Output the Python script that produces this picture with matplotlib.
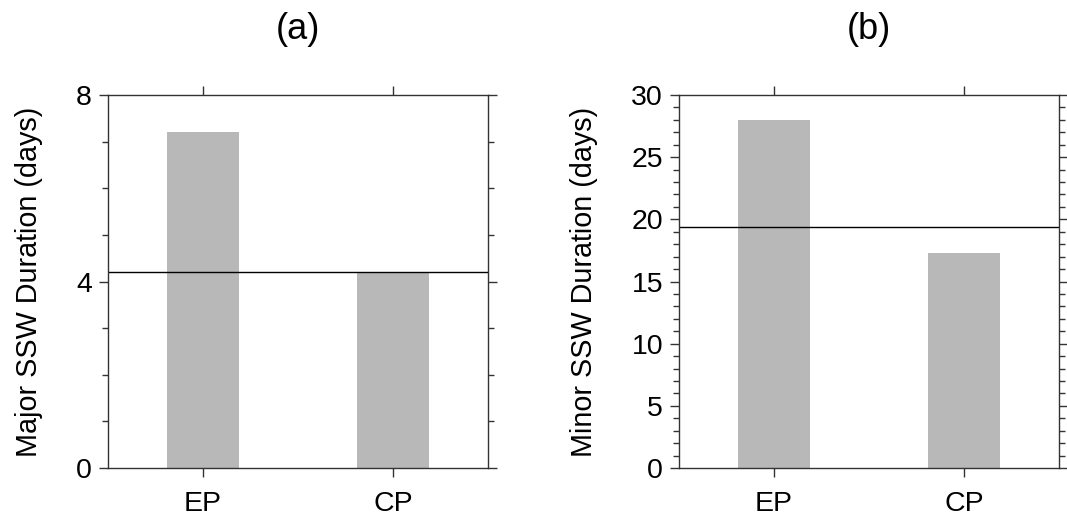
import numpy as np
import matplotlib.pyplot as plt
from matplotlib.ticker import MultipleLocator

plt.rcParams['font.family'] = ['Liberation Sans', 'DejaVu Sans']

# --- data ------------------------------------------------------------
categories = ["EP", "CP"]
major_dur = [7.21, 4.2]
major_mean = 4.21
minor_dur = [27.97, 17.32]
minor_mean = 19.41

bar_color = "#b7b8b7"
spine_color = "#333333"

fig = plt.figure(figsize=(10.67, 5.18), dpi=100)
ax_a = fig.add_axes([108/1067, 1-468/518, 380/1067, 373/518])
ax_b = fig.add_axes([679/1067, 1-468/518, 380/1067, 373/518])

def style(ax, vals, mean, ylim, major, minor, ylabel, title):
    x = np.arange(len(categories))
    ax.bar(x, vals, width=0.38, color=bar_color, zorder=1)
    ax.axhline(mean, color="black", lw=1.0, zorder=2)
    ax.set_xlim(-0.5, 1.5)
    ax.set_ylim(*ylim)
    ax.set_xticks(x)
    ax.set_xticklabels(categories)
    ax.yaxis.set_major_locator(MultipleLocator(major))
    ax.yaxis.set_minor_locator(MultipleLocator(minor))
    ax.tick_params(which="both", direction="out", top=True, right=True,
                   color=spine_color, width=1.0, labelsize=20.5)
    ax.tick_params(which="major", length=6.5)
    ax.tick_params(which="minor", length=4)
    ax.tick_params(axis="y", pad=5)
    ax.tick_params(axis="x", pad=10)
    ax.tick_params(axis="x", which="minor", top=False, bottom=False)
    for s in ax.spines.values():
        s.set_color(spine_color)
        s.set_linewidth(1.0)
    ax.set_ylabel(ylabel, fontsize=20.7, labelpad=24)
    ax.set_title(title, fontsize=26, pad=40)

style(ax_a, major_dur, major_mean, (0, 8), 4, 1,
      "Major SSW Duration (days)", "(a)")
style(ax_b, minor_dur, minor_mean, (0, 30), 5, 1,
      "Minor SSW Duration (days)", "(b)")

fig.savefig("out.png", dpi=100)
